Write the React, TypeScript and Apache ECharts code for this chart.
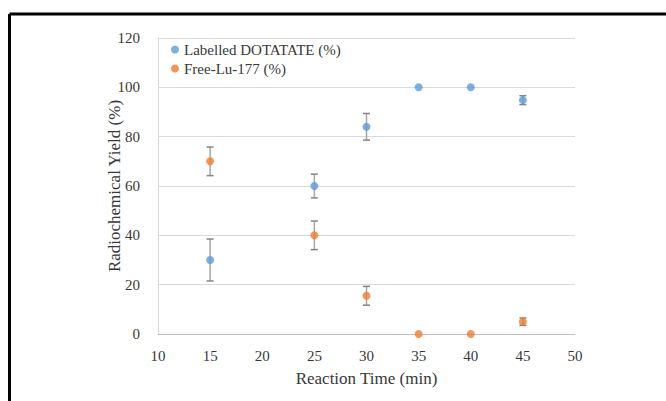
import React, { useEffect, useRef } from "react";
import * as echarts from "echarts";

const times = [15, 25, 30, 35, 40, 45];
const labelled = [30, 60, 84, 100, 100, 94.8];
const labelledErr = [8.5, 4.8, 5.4, 0, 0, 1.8];
const freeLu = [70, 40, 15.5, 0, 0, 5];
const freeLuErr = [5.8, 5.8, 3.8, 0, 0, 1.5];
const seriesNames = ["Labelled DOTATATE (%)", "Free-Lu-177 (%)"];
const colors = ["#5B9BD5", "#ED7D31"];

const FONT = "'Liberation Serif', 'Times New Roman', serif";
const TXT = "#383838";

function errData(vals: number[], errs: number[]) {
  return times.map((t, i) => [t, vals[i] - errs[i], vals[i] + errs[i]]);
}

function renderErr(params: any, api: any) {
  const x = api.value(0);
  const lo = api.value(1);
  const hi = api.value(2);
  if (hi - lo <= 0) return null;
  const pLo = api.coord([x, lo]);
  const pHi = api.coord([x, hi]);
  const hw = 3.5;
  return {
    type: "group",
    children: [
      {
        type: "line",
        shape: { x1: pLo[0], y1: pLo[1], x2: pHi[0], y2: pHi[1] },
        style: { stroke: "#a5a5a5", lineWidth: 1.5 },
      },
      {
        type: "line",
        shape: { x1: pHi[0] - hw, y1: pHi[1], x2: pHi[0] + hw, y2: pHi[1] },
        style: { stroke: "#858585", lineWidth: 1.5 },
      },
      {
        type: "line",
        shape: { x1: pLo[0] - hw, y1: pLo[1], x2: pLo[0] + hw, y2: pLo[1] },
        style: { stroke: "#858585", lineWidth: 1.5 },
      },
    ],
  };
}

export default function App() {
  const ref = useRef<HTMLDivElement>(null);
  useEffect(() => {
    if (!ref.current) return;
    const chart = echarts.init(ref.current, undefined, { renderer: "svg" });
    chart.setOption({
      animation: false,
      backgroundColor: "#ffffff",
      textStyle: { fontFamily: FONT },
      grid: { left: 158, right: 91, top: 38, bottom: 67, containLabel: false },
      legend: {
        left: 166,
        top: 37,
        orient: "vertical",
        itemGap: 4,
        itemWidth: 8,
        itemHeight: 8,
        icon: "circle",
        textStyle: { fontFamily: FONT, fontSize: 15, color: TXT },
        data: seriesNames,
      },
      xAxis: {
        type: "value",
        min: 10,
        max: 50,
        interval: 5,
        name: "Reaction Time (min)",
        nameLocation: "middle",
        nameGap: 36,
        nameMoveOverlap: false,
        nameTextStyle: { fontFamily: FONT, fontSize: 17, color: TXT },
        axisLine: { show: true, lineStyle: { color: "#bfbfbf", width: 1 } },
        axisTick: { show: false },
        axisLabel: { margin: 14, fontFamily: FONT, fontSize: 15, color: TXT },
        splitLine: { show: false },
      },
      yAxis: {
        type: "value",
        min: 0,
        max: 120,
        interval: 20,
        name: "Radiochemical Yield (%)",
        nameLocation: "middle",
        nameGap: 35,
        nameMoveOverlap: false,
        nameTextStyle: { fontFamily: FONT, fontSize: 17, color: TXT },
        axisLine: { show: true, lineStyle: { color: "#d9d9d9", width: 1 } },
        axisTick: { show: false },
        axisLabel: { margin: 18, fontFamily: FONT, fontSize: 15, color: TXT },
        splitLine: { show: true, lineStyle: { color: "#d9d9d9", width: 1 } },
      },
      graphic: [
        {
          type: "line",
          shape: { x1: 9.5, y1: 14, x2: 666, y2: 14 },
          style: { stroke: "#000", lineWidth: 3 },
        },
        {
          type: "line",
          shape: { x1: 9.5, y1: 14, x2: 9.5, y2: 401 },
          style: { stroke: "#000", lineWidth: 3 },
        },
      ],
      series: [
        {
          type: "custom",
          name: "err1",
          renderItem: renderErr,
          data: errData(labelled, labelledErr),
          encode: { x: 0, y: [1, 2] },
          z: 1,
          silent: true,
        },
        {
          type: "custom",
          name: "err2",
          renderItem: renderErr,
          data: errData(freeLu, freeLuErr),
          encode: { x: 0, y: [1, 2] },
          z: 1,
          silent: true,
        },
        {
          type: "scatter",
          name: seriesNames[0],
          symbol: "circle",
          symbolSize: 8,
          itemStyle: { color: colors[0] },
          data: times.map((t, i) => [t, labelled[i]]),
          z: 3,
        },
        {
          type: "scatter",
          name: seriesNames[1],
          symbol: "circle",
          symbolSize: 8,
          itemStyle: { color: colors[1] },
          data: times.map((t, i) => [t, freeLu[i]]),
          z: 3,
        },
      ],
    });
    return () => chart.dispose();
  }, []);
  return (
    <div
      ref={ref}
      style={{ position: "absolute", left: 0, top: 0, width: 666, height: 401 }}
    />
  );
}
